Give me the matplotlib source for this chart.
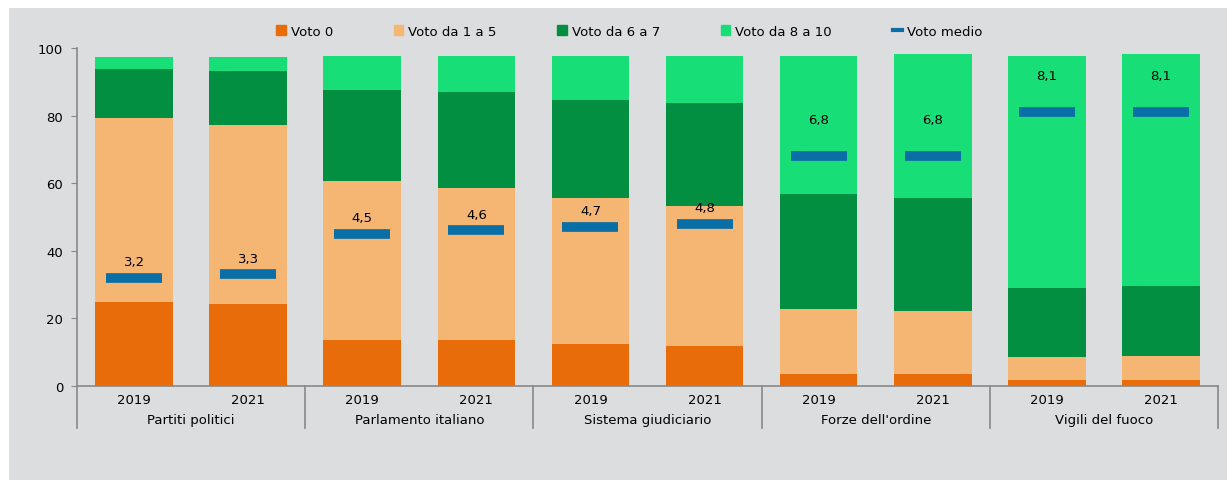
import matplotlib.pyplot as plt
import numpy as np
from matplotlib.patches import Rectangle, Patch
from matplotlib.lines import Line2D

# categorie e anni
gruppi = ['Partiti politici', 'Parlamento italiano', 'Sistema giudiciario',
          "Forze dell'ordine", 'Vigili del fuoco']
anni = ['2019', '2021']

# quote (%) per fascia di voto, una per barra (gruppo x anno)
voto_0 = [24.7, 24.1, 13.4, 13.4, 12.3, 11.8, 3.6, 3.6, 1.6, 1.6]
voto_1_5 = [54.5, 53.1, 47.2, 45.2, 43.4, 41.5, 19.0, 18.5, 6.8, 7.3]
voto_6_7 = [14.6, 16.1, 26.9, 28.4, 28.8, 30.3, 34.2, 33.6, 20.5, 20.5]
voto_8_10 = [3.4, 3.9, 10.2, 10.7, 13.2, 14.1, 40.9, 42.5, 68.8, 68.8]
voto_medio = [3.2, 3.3, 4.5, 4.6, 4.7, 4.8, 6.8, 6.8, 8.1, 8.1]

c_0 = '#e96c0a'
c_15 = '#f5b673'
c_67 = '#038f42'
c_810 = '#17de76'
c_medio = '#0a6fa6'
sfondo = '#dcdddf'

fig = plt.figure(figsize=(12.27, 4.81), dpi=100)
fig.patches.append(Rectangle((9 / 1227, 0), 1, 1 - 9 / 481, transform=fig.transFigure,
                             facecolor=sfondo, edgecolor='none', zorder=-10))
ax = fig.add_axes([77 / 1227, 94.3 / 481, 1141 / 1227, 337.7 / 481])
ax.set_facecolor(sfondo)

x = np.arange(len(voto_0))
w = 0.68
b = np.zeros(len(x))
for vals, col, lab in [(voto_0, c_0, 'Voto 0'), (voto_1_5, c_15, 'Voto da 1 a 5'),
                       (voto_6_7, c_67, 'Voto da 6 a 7'), (voto_8_10, c_810, 'Voto da 8 a 10')]:
    ax.bar(x, vals, w, bottom=b, color=col, label=lab, zorder=2)
    b += np.array(vals)

medio = np.array(voto_medio) * 10
ax.plot(x, medio, ls='none', marker='_', ms=40, mew=7, color=c_medio, zorder=3)
for xi, m, v in zip(x, medio, voto_medio):
    off = 37 if v > 6 else 16
    ax.annotate(f'{v:.1f}'.replace('.', ','), (xi, m), xytext=(0, off),
                textcoords='offset pixels', ha='center', va='center', fontsize=9.5, zorder=4)

ax.set_xlim(-0.5, len(x) - 0.5)
ax.set_ylim(0, 100)
ax.set_yticks(range(0, 101, 20))
ax.tick_params(axis='y', length=4, color='#888888', labelsize=9.5, pad=6)
ax.set_xticks(x)
ax.set_xticklabels(anni * len(gruppi), fontsize=9.5)
ax.tick_params(axis='x', length=0, pad=5)
for s in ['top', 'right']:
    ax.spines[s].set_visible(False)
for s in ['left', 'bottom']:
    ax.spines[s].set_color('#888888')
    ax.spines[s].set_linewidth(1.2)

tr = ax.get_xaxis_transform()
for k in range(len(gruppi) + 1):
    ax.plot([2 * k - 0.5] * 2, [0, -0.125], transform=tr, color='#888888', lw=1.2, clip_on=False)
for k, g in enumerate(gruppi):
    ax.text(2 * k + 0.5, -0.1, g, transform=tr, ha='center', va='center', fontsize=9.5)

handles = [Patch(color=c_0), Patch(color=c_15), Patch(color=c_67), Patch(color=c_810),
           Line2D([], [], color=c_medio, lw=3)]
labels = ['Voto 0', 'Voto da 1 a 5', 'Voto da 6 a 7', 'Voto da 8 a 10', 'Voto medio']
fig.legend(handles, labels, loc='center', bbox_to_anchor=(0.513, 0.933), ncol=5,
           frameon=False, fontsize=9.5, handlelength=0.7, handleheight=0.7,
           handletextpad=0.4, columnspacing=4.6)

fig.savefig('out.png', dpi=100)
